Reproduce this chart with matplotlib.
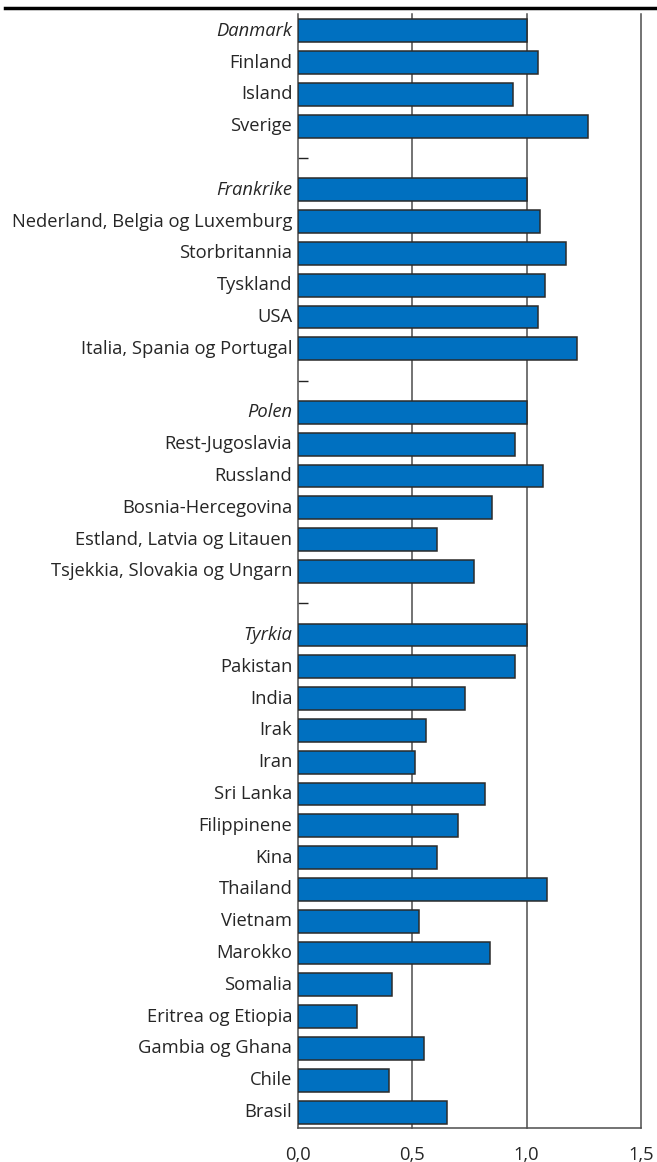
import matplotlib.pyplot as plt
from matplotlib.lines import Line2D
import numpy as np

plt.rcParams['font.family'] = ['Open Sans', 'DejaVu Sans']

# None marks an empty separator row
labels = ["Danmark", "Finland", "Island", "Sverige", None,
          "Frankrike", "Nederland, Belgia og Luxemburg", "Storbritannia", "Tyskland", "USA",
          "Italia, Spania og Portugal", None,
          "Polen", "Rest-Jugoslavia", "Russland", "Bosnia-Hercegovina",
          "Estland, Latvia og Litauen", "Tsjekkia, Slovakia og Ungarn", None,
          "Tyrkia", "Pakistan", "India", "Irak", "Iran", "Sri Lanka", "Filippinene", "Kina",
          "Thailand", "Vietnam", "Marokko", "Somalia", "Eritrea og Etiopia",
          "Gambia og Ghana", "Chile", "Brasil"]
values = [1.00, 1.05, 0.94, 1.27, None,
          1.00, 1.06, 1.17, 1.08, 1.05, 1.22, None,
          1.00, 0.95, 1.07, 0.85, 0.61, 0.77, None,
          1.00, 0.95, 0.73, 0.56, 0.51, 0.82, 0.70, 0.61, 1.09, 0.53, 0.84,
          0.41, 0.26, 0.55, 0.40, 0.65]
reference = ["Danmark", "Frankrike", "Polen", "Tyrkia"]
xticks = [0.0, 0.5, 1.0, 1.5]

FS = 13.2
fig = plt.figure(figsize=(6.57, 11.62), dpi=100)
ax = fig.add_axes([0.4536, 0.0293, 0.5220, 0.9587])

pos = np.arange(len(labels))
bar_pos = [p for p, v in zip(pos, values) if v is not None]
bar_val = [v for v in values if v is not None]
ax.barh(bar_pos, bar_val, height=0.72, color='#0070C0', edgecolor='#2b2b2b',
        linewidth=1.1, zorder=3)

for x in xticks[1:]:
    ax.axvline(x, color='#4d4d4d', lw=1.1, zorder=1, clip_on=False)

ax.set_xlim(0, 1.5)
ax.set_ylim(len(labels) - 0.5, -0.53)

# category labels as text so the group headers can be italic
for p, lab in zip(pos, labels):
    if lab is None:
        continue
    ax.text(-0.025, p, lab, ha='right', va='center', fontsize=FS, color='#262626',
            style='italic' if lab in reference else 'normal')

blank = [p for p, lab in zip(pos, labels) if lab is None]
ax.set_yticks(blank)
ax.set_yticklabels([])
ax.tick_params(axis='y', direction='in', length=7, width=1, color='#222222')

ax.set_xticks(xticks)
ax.set_xticklabels([f"{x:.1f}".replace('.', ',') for x in xticks], fontsize=FS, color='#262626')
ax.tick_params(axis='x', length=0, pad=13)

for s in ['top', 'right']:
    ax.spines[s].set_visible(False)
for s in ['left', 'bottom']:
    ax.spines[s].set_color('#4d4d4d')
    ax.spines[s].set_linewidth(1.1)

fig.add_artist(Line2D([0.008, 1.0], [0.9935, 0.9935], color='black', lw=2.5,
                      transform=fig.transFigure))

plt.savefig("out.png", dpi=100)
